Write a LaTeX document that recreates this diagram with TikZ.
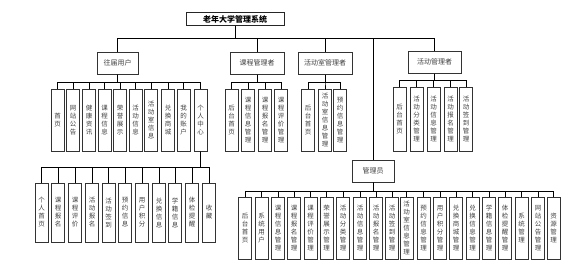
\documentclass[tikz,border=0pt]{standalone}
\usepackage{fontspec}
\setmainfont{Noto Sans CJK SC}

% 縦書きの文字列
\ExplSyntaxOn
\NewDocumentCommand \vt { m }
  {
    \seq_clear:N \l_tmpa_seq
    \tl_map_inline:nn {#1} { \seq_put_right:Nn \l_tmpa_seq {##1} }
    \seq_use:Nn \l_tmpa_seq { \\ }
  }
\ExplSyntaxOff

\tikzset{
    org root/.style={
      draw=black!85,
      line width=0.9pt,
      minimum width=98pt,
      minimum height=13pt,
      inner sep=0pt,
      font=\fontsize{8}{9}\selectfont\bfseries
    },
    org role/.style={
      draw=black!80,
      line width=1pt,
      minimum height=22pt,
      inner sep=0pt,
      text=black!75,
      font=\fontsize{7}{8}\selectfont
    },
    org leaf/.style={
      draw=black!80,
      line width=1pt,
      minimum width=13pt,
      minimum height=62pt,
      inner sep=0pt,
      align=center,
      text=black!75,
      font=\fontsize{6.5}{8}\selectfont
    },
    org link/.style={
      draw=black,
      line width=0.6pt
    }
  }

\begin{document}
\begin{tikzpicture}[x=1pt,y=-1pt]
      \useasboundingbox (0,0) rectangle (586,271);

      % システム
      \node[org root] (sys) at (235,19) {老年大学管理系统};

      % 役割
      \node[org role, minimum width=41pt] (user) at (117.5,63) {往届用户};
      \node[org role, minimum width=54pt] (course) at (257,63) {课程管理者};
      \node[org role, minimum width=54pt] (room) at (325,63) {活动室管理者};
      \node[org role, minimum width=53pt] (act) at (434.5,62) {活动管理者};
      \node[org role, minimum width=42pt] (admin) at (373,171) {管理员};

      % 往届用户
      \node[org leaf] (u1) at (57.5,120) {\vt{首页}};
      \node[org leaf] (u2) at (73,120) {\vt{网站公告}};
      \node[org leaf] (u3) at (89,120) {\vt{健康资讯}};
      \node[org leaf] (u4) at (104.5,120) {\vt{课程信息}};
      \node[org leaf] (u5) at (120,120) {\vt{荣誉展示}};
      \node[org leaf] (u6) at (135.5,120) {\vt{活动信息}};
      \node[org leaf] (u7) at (151,120) {\vt{活动室信息}};
      \node[org leaf] (u8) at (168,120) {\vt{兑换商城}};
      \node[org leaf] (u9) at (183.5,120) {\vt{我的账户}};
      \node[org leaf] (u10) at (200.5,120) {\vt{个人中心}};

      % 个人中心
      \node[org leaf, minimum height=59pt] (p1) at (41.5,212.5) {\vt{个人首页}};
      \node[org leaf, minimum height=59pt] (p2) at (58,212.5) {\vt{课程报名}};
      \node[org leaf, minimum height=59pt] (p3) at (75,212.5) {\vt{课程评价}};
      \node[org leaf, minimum height=59pt] (p4) at (92,212.5) {\vt{活动报名}};
      \node[org leaf, minimum height=59pt] (p5) at (108.5,212.5) {\vt{活动签到}};
      \node[org leaf, minimum height=59pt] (p6) at (125,212.5) {\vt{预约信息}};
      \node[org leaf, minimum height=59pt] (p7) at (142,212.5) {\vt{用户积分}};
      \node[org leaf, minimum height=59pt] (p8) at (159,212.5) {\vt{兑换信息}};
      \node[org leaf, minimum height=59pt] (p9) at (175,212.5) {\vt{学籍信息}};
      \node[org leaf, minimum height=59pt] (p10) at (192,212.5) {\vt{体检提醒}};
      \node[org leaf, minimum height=59pt] (p11) at (209,212.5) {\vt{收藏}};

      % 课程管理者
      \node[org leaf] (c1) at (231.5,120) {\vt{后台首页}};
      \node[org leaf] (c2) at (248,120) {\vt{课程信息管理}};
      \node[org leaf] (c3) at (265,120) {\vt{课程报名管理}};
      \node[org leaf] (c4) at (281,120) {\vt{课程评价管理}};

      % 活动室管理者
      \node[org leaf] (r1) at (308,120) {\vt{后台首页}};
      \node[org leaf] (r2) at (325,120) {\vt{活动室信息管理}};
      \node[org leaf] (r3) at (340,120) {\vt{预约信息管理}};

      % 活动管理者
      \node[org leaf, minimum height=64pt] (a1) at (399.5,119) {\vt{后台首页}};
      \node[org leaf, minimum height=64pt] (a2) at (416.5,119) {\vt{活动分类管理}};
      \node[org leaf, minimum height=64pt] (a3) at (433.5,119) {\vt{活动信息管理}};
      \node[org leaf, minimum height=64pt] (a4) at (450.5,119) {\vt{活动报名管理}};
      \node[org leaf, minimum height=64pt] (a5) at (466,119) {\vt{活动签到管理}};

      % 管理员
      \node[org leaf] (m1) at (245,228) {\vt{后台首页}};
      \node[org leaf] (m2) at (261.5,228) {\vt{系统用户}};
      \node[org leaf] (m3) at (278,228) {\vt{课程信息管理}};
      \node[org leaf] (m4) at (294,228) {\vt{课程报名管理}};
      \node[org leaf] (m5) at (310.5,228) {\vt{课程评价管理}};
      \node[org leaf] (m6) at (326.5,228) {\vt{荣誉展示管理}};
      \node[org leaf] (m7) at (343,228) {\vt{活动分类管理}};
      \node[org leaf] (m8) at (360,228) {\vt{活动信息管理}};
      \node[org leaf] (m9) at (376,228) {\vt{活动报名管理}};
      \node[org leaf] (m10) at (392,228) {\vt{活动签到管理}};
      \node[org leaf] (m11) at (406.5,228) {\vt{活动室信息管理}};
      \node[org leaf] (m12) at (423.5,228) {\vt{预约信息管理}};
      \node[org leaf] (m13) at (440,228) {\vt{用户积分管理}};
      \node[org leaf] (m14) at (456,228) {\vt{兑换商城管理}};
      \node[org leaf] (m15) at (472.5,228) {\vt{兑换信息管理}};
      \node[org leaf] (m16) at (489,228) {\vt{学籍信息管理}};
      \node[org leaf] (m17) at (505,228) {\vt{体检提醒管理}};
      \node[org leaf] (m18) at (521.5,228) {\vt{系统管理}};
      \node[org leaf] (m19) at (538,228) {\vt{网站公告管理}};
      \node[org leaf] (m20) at (553.5,228) {\vt{资源管理}};

      % 接続線の高さ
      \coordinate (bus0) at (0,38);
      \coordinate (busu) at (0,82);
      \coordinate (busc) at (0,82);
      \coordinate (busr) at (0,82);
      \coordinate (busa) at (0,80);
      \coordinate (busp) at (0,167);
      \coordinate (busm) at (0,191);

      % 接続線
      \foreach \r in {user,course,room,act,admin}
        \draw[org link] (sys.south) |- (\r.north |- bus0) -- (\r.north);
      \foreach \i in {1,...,10}
        \draw[org link] (user.south) |- (u\i.north |- busu) -- (u\i.north);
      \foreach \i in {1,...,11}
        \draw[org link] (u10.south) |- (p\i.north |- busp) -- (p\i.north);
      \foreach \i in {1,...,4}
        \draw[org link] (course.south) |- (c\i.north |- busc) -- (c\i.north);
      \foreach \i in {1,...,3}
        \draw[org link] (room.south) |- (r\i.north |- busr) -- (r\i.north);
      \foreach \i in {1,...,5}
        \draw[org link] (act.south) |- (a\i.north |- busa) -- (a\i.north);
      \foreach \i in {1,...,20}
        \draw[org link] (admin.south) |- (m\i.north |- busm) -- (m\i.north);
    \end{tikzpicture}
\end{document}
